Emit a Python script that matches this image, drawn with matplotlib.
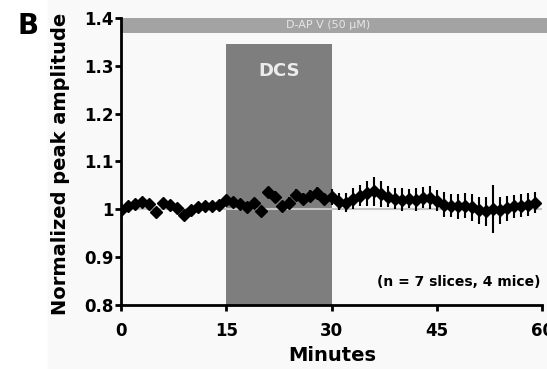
import numpy as np
import matplotlib
matplotlib.use('Agg')
import matplotlib.pyplot as plt
from matplotlib.patches import Rectangle

# data, one point per minute
minutes = list(range(0, 60))
amplitude = [0.998, 1.006, 1.012, 1.016, 1.012, 0.994, 1.014, 1.010, 1.002, 0.988,
             0.998, 1.005, 1.006, 1.008, 1.010, 1.020, 1.016, 1.012, 1.004, 1.014,
             0.996, 1.036, 1.026, 1.006, 1.014, 1.030, 1.022, 1.028, 1.034, 1.022,
             1.026, 1.016, 1.014, 1.022, 1.028, 1.034, 1.038, 1.032, 1.026, 1.022,
             1.020, 1.022, 1.020, 1.024, 1.024, 1.018, 1.010, 1.008, 1.006, 1.008,
             1.004, 0.998, 0.996, 1.000, 0.998, 1.002, 1.006, 1.008, 1.010, 1.014]
sem = [0.014, 0.008, 0.008, 0.008, 0.008, 0.008, 0.008, 0.008, 0.008, 0.010,
       0.008, 0.008, 0.008, 0.008, 0.008, 0.010, 0.010, 0.010, 0.010, 0.010,
       0.010, 0.010, 0.012, 0.012, 0.012, 0.012, 0.012, 0.012, 0.012, 0.012,
       0.016, 0.018, 0.020, 0.022, 0.022, 0.026, 0.030, 0.028, 0.022, 0.022,
       0.024, 0.020, 0.024, 0.022, 0.024, 0.022, 0.026, 0.024, 0.026, 0.026,
       0.028, 0.028, 0.030, 0.050, 0.028, 0.026, 0.024, 0.024, 0.024, 0.022]
xticks = [0, 15, 30, 45, 60]
yticks = [0.8, 0.9, 1.0, 1.1, 1.2, 1.3, 1.4]
yticklabels = ['0.8', '0.9', '1', '1.1', '1.2', '1.3', '1.4']
dcs_start, dcs_end = 15, 30

plt.rcParams['font.family'] = ['DejaVu Sans']
plt.rcParams['font.weight'] = 'bold'

fig = plt.figure(figsize=(5.47, 3.69), dpi=100)
fig.patch.set_facecolor('white')
fig.patches.append(Rectangle((48/547, 0), 1, 1, transform=fig.transFigure,
                             color='#f9f9f9', zorder=-10))
ax = fig.add_axes([121/547, 1-305/369, 421/547, 287/369])
ax.set_facecolor('none')

ax.set_xlim(0, 60)
ax.set_ylim(0.8, 1.4)

# DCS block
ax.add_patch(Rectangle((dcs_start, 0.8), dcs_end-dcs_start, 0.546,
                       color='#7e7e7e', zorder=1, lw=0))
ax.text((dcs_start+dcs_end)/2, 1.29, 'DCS', color='#ececec', ha='center',
        va='center', fontsize=13, fontweight='bold', zorder=2)

# D-APV bar along the top
ax.add_patch(Rectangle((0, 1.369), 62, 0.031, color='#a3a3a3', zorder=1,
                       lw=0, clip_on=False))
ax.text(29.5, 1.3845, 'D-AP V (50 \u03bcM)', color='#e6e6e6', ha='center',
        va='center', fontsize=8, fontweight='normal', zorder=2)

ax.axhline(1.0, color='#c4c4c4', lw=1.5, zorder=1)

ax.errorbar(minutes, amplitude, yerr=sem, fmt='D', color='black', ms=6,
            elinewidth=1.5, capsize=0, zorder=3)

ax.text(59.8, 0.848, '(n = 7 slices, 4 mice)', ha='right', va='center',
        fontsize=10, fontweight='bold')

ax.spines['top'].set_visible(False)
ax.spines['right'].set_visible(False)
ax.spines['left'].set_linewidth(2)
ax.spines['bottom'].set_linewidth(2)
ax.set_xticks(xticks)
ax.set_yticks(yticks)
ax.set_yticklabels(yticklabels)
ax.tick_params(width=2, length=4, labelsize=12)
ax.tick_params(axis='x', pad=8)
ax.tick_params(axis='y', pad=1)
for lab in ax.get_xticklabels() + ax.get_yticklabels():
    lab.set_fontweight('bold')

ax.set_xlabel('Minutes', fontsize=14, fontweight='bold')
ax.set_ylabel('Normalized peak amplitude', fontsize=14, fontweight='bold')
ax.xaxis.set_label_coords(0.502, -0.143)
ax.yaxis.set_label_coords(-0.121, 0.493)

fig.text(17/547, 1-26/369, 'B', fontsize=20, fontweight='bold', va='center')

fig.savefig('out.png', dpi=100)
